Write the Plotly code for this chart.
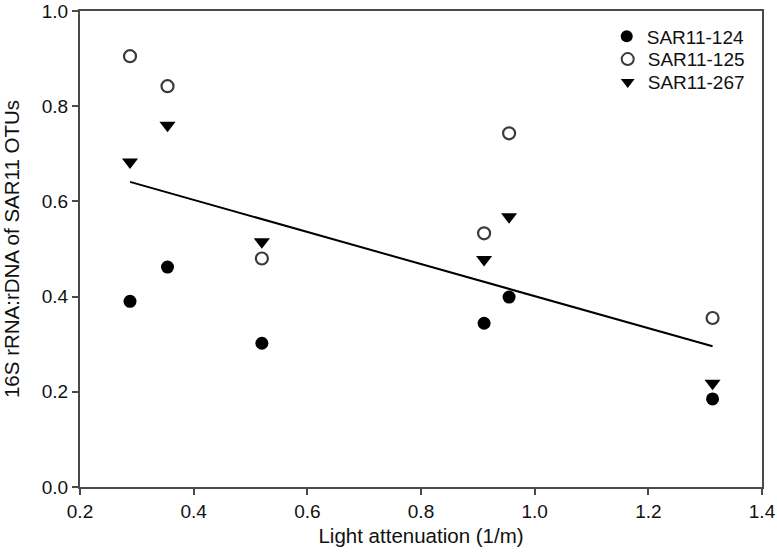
import numpy as np
import plotly.graph_objects as go

# Data
light_attenuation = [0.288, 0.354, 0.520, 0.911, 0.955, 1.313]
sar11_124 = [0.390, 0.462, 0.302, 0.344, 0.399, 0.185]
sar11_125 = [0.905, 0.842, 0.480, 0.533, 0.743, 0.355]
sar11_267 = [0.683, 0.760, 0.515, 0.478, 0.568, 0.218]

# Linear regression line as drawn in the reference
fit_slope = -0.337
fit_intercept = 0.738

x_ticks = [0.2, 0.4, 0.6, 0.8, 1.0, 1.2, 1.4]
y_ticks = [0.0, 0.2, 0.4, 0.6, 0.8, 1.0]

FONT = "Liberation Sans, Arial, sans-serif"
AX = "#4a4a4a"
TXT = "#111111"

fig = go.Figure()

fig.add_trace(go.Scatter(
    x=light_attenuation, y=sar11_124, mode="markers", name="SAR11-124", legend="legend",
    marker=dict(symbol="circle", size=13, color="black", line=dict(width=0)),
))
fig.add_trace(go.Scatter(
    x=light_attenuation, y=sar11_125, mode="markers", name="SAR11-125", legend="legend2",
    marker=dict(symbol="circle-open", size=12, color="#3a3a3a", line=dict(width=2.2, color="#3a3a3a")),
))
fig.add_trace(go.Scatter(
    x=light_attenuation, y=sar11_267, mode="markers", name="SAR11-267", legend="legend3",
    marker=dict(symbol="triangle-down", size=14, color="black", line=dict(width=0)),
))

xl = np.array([min(light_attenuation), max(light_attenuation)])
fig.add_trace(go.Scatter(
    x=xl, y=fit_intercept + fit_slope * xl, mode="lines", showlegend=False,
    line=dict(color="black", width=2),
))

axis_common = dict(
    showgrid=False, zeroline=False, showline=True, linecolor=AX, linewidth=2,
    mirror=True, ticks="outside", ticklen=6, tickwidth=1.5, tickcolor=AX,
    tickfont=dict(family=FONT, size=19, color=TXT), automargin=False,
)

def legend_at(y):
    return dict(x=0.982, xanchor="right", y=y, yanchor="top",
                bgcolor="rgba(0,0,0,0)", font=dict(family=FONT, size=19, color=TXT),
                itemsizing="constant")

fig.update_layout(
    width=777, height=556,
    margin=dict(l=80, r=15, t=11, b=69),
    paper_bgcolor="white", plot_bgcolor="white",
    font=dict(family=FONT, size=19, color=TXT),
    xaxis=dict(range=[0.2, 1.4], tickvals=x_ticks, ticktext=[f"{v:.1f}" for v in x_ticks],
               title=dict(text="Light attenuation (1/m)", font=dict(family=FONT, size=20.5, color=TXT), standoff=8),
               **axis_common),
    yaxis=dict(range=[0.0, 1.0], tickvals=y_ticks, ticktext=[f"{v:.1f}" for v in y_ticks],
               title=dict(text="16S rRNA:rDNA of SAR11 OTUs", font=dict(family=FONT, size=20.5, color=TXT), standoff=20),
               **axis_common),
    legend=legend_at(0.9868),
    legend2=legend_at(0.9386),
    legend3=legend_at(0.8903),
    showlegend=True,
)

fig.write_html("out.html", config={"displayModeBar": False},
               post_script="document.body.style.margin='0';")
